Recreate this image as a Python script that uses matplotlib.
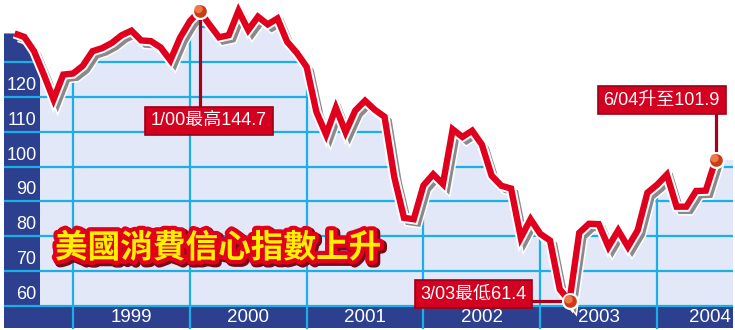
# US consumer confidence index, Jun 1998 - Jun 2004 (newspaper style chart)

import matplotlib
matplotlib.use('Agg')
import matplotlib.pyplot as plt
import matplotlib.patheffects as pe
from matplotlib.patches import Rectangle

# monthly values, Jun 1998 .. Jun 2004
cci = [138.2, 137.2, 133.1, 126.4, 119.3, 126.4, 126.7,
       128.9, 133.1, 134.0, 135.5, 137.7, 139.0, 136.2, 136.0, 134.2, 130.5, 137.0, 141.7,
       144.7, 140.8, 137.1, 137.7, 144.7, 139.2, 143.0, 140.8, 142.5, 135.8, 132.6, 128.6,
       115.7, 109.2, 116.9, 109.9, 116.1, 118.9, 116.3, 114.3, 97.0, 85.3, 84.9, 94.6,
       97.8, 95.0, 110.7, 108.5, 110.3, 106.3, 97.4, 94.5, 93.7, 79.6, 84.9, 80.7,
       78.8, 64.8, 61.4, 81.0, 83.6, 83.5, 77.0, 81.7, 77.0, 81.7, 92.5, 94.8,
       97.7, 88.5, 88.5, 93.0, 93.1, 101.9]
start_year, start_month = 1998, 6
year_labels = ['1999', '2000', '2001', '2002', '2003', '2004']
y_ticks = [60, 70, 80, 90, 100, 110, 120]
grid_levels = [60, 70, 80, 90, 100, 110, 120, 130, 140]

# x = months since Dec 1998 (Jan 1999 point sits one month right of the 1999 line)
x = [(start_year - 1999) * 12 + start_month + i for i in range(len(cci))]

# annotated points
i_max = cci.index(144.7)
i_min = cci.index(61.4)
i_last = len(cci) - 1

# colours
LAV = '#e2e8f8'
BLUE = '#2c408f'
CYAN = '#1ab0e6'
RED = '#e0001e'
BOXRED = '#d4001f'

fig = plt.figure(figsize=(7.35, 3.3), dpi=100)
ax = fig.add_axes([0, 0, 1, 1])
XL, XR = -7.5, 68.0
YB, YT = 53.12, 147.8
ax.set_xlim(XL, XR)
ax.set_ylim(YB, YT)
ax.axis('off')

col_l, col_r = -7.09, -3.39     # left blue column
right = 67.8
band_b = 53.7

# backgrounds
ax.add_patch(Rectangle((col_r, 60), right - col_r, YT - 60, fc=LAV, ec='none', zorder=0))
ax.add_patch(Rectangle((col_l, 60), col_r - col_l, YT - 60, fc=BLUE, ec='none', zorder=0))
ax.add_patch(Rectangle((col_l, band_b), right - col_l, 60 - band_b, fc=BLUE, ec='none', zorder=0))

# grid
for g in grid_levels:
    ax.plot([col_l, right], [g, g], color=CYAN, lw=1.6, zorder=1, solid_capstyle='butt')
for k in range(len(year_labels)):
    ax.plot([k * 12, k * 12], [band_b, YT], color=CYAN, lw=1.6, zorder=1)

# white above the curve
fx = [XL] + x + [XR]
fy = [cci[0]] + cci + [cci[-1]]
ax.fill_between(fx, fy, YT + 5, color='white', zorder=2, lw=0)

# labels
lab_font = ['Liberation Sans', 'DejaVu Sans']
for v in y_ticks:
    ax.text(-3.75, v + 3.3, str(v), color='white', fontsize=13, ha='right', va='center',
            family=lab_font, zorder=3)
for k, lab in enumerate(year_labels):
    xc = k * 12 + 6
    ha = 'center'
    if xc > 62:
        xc, ha = 67.6, 'right'
    ax.text(xc, 56.8, lab, color='white', fontsize=13.5, ha=ha, va='center',
            family=lab_font, zorder=3)

# title
ax.text(14.9, 76.6, '美國消費信心指數上升', color='#fff000', fontsize=23.5, fontweight='bold',
        family=['Noto Sans CJK TC'], ha='center', va='center', zorder=3,
        path_effects=[pe.Stroke(linewidth=7, foreground='#7a0a18', offset=(1.5, -1.5)),
                      pe.Stroke(linewidth=6, foreground='#e2001b'),
                      pe.Normal()])

# the line with halo and shadow
ax.plot(x, cci, color=RED, lw=4.6, zorder=4, solid_joinstyle='miter', solid_capstyle='butt',
        path_effects=[pe.SimpleLineShadow(offset=(3.0, -3.0), shadow_color='white', alpha=1, linewidth=6.8),
                      pe.SimpleLineShadow(offset=(3.0, -3.0), shadow_color='#8a8a8a', alpha=1, linewidth=4.6),
                      pe.Stroke(linewidth=7.4, foreground='white'),
                      pe.Normal()])

# annotations
ann_font = ['Liberation Sans', 'Noto Sans CJK TC']
box = dict(boxstyle='square,pad=0.32', fc=BOXRED, ec='#9c0018', lw=1.2)
CONN = '#a8001c'

ax.plot([x[i_max], x[i_max]], [cci[i_max], 113], color=CONN, lw=2.3, zorder=5)
ax.text(13.97, 113.1, '1/00最高144.7', color='white', fontsize=13, family=ann_font,
        ha='center', va='center', bbox=box, zorder=6)

ax.plot([x[i_last], x[i_last]], [cci[i_last], 119], color=CONN, lw=2.3, zorder=5)
ax.text(60.46, 119.1, '6/04升至101.9', color='white', fontsize=13, family=ann_font,
        ha='center', va='center', bbox=box, zorder=6)

ax.plot([44, x[i_min]], [cci[i_min], cci[i_min]], color=CONN, lw=2.3, zorder=5)
ax.text(41.15, 63.4, '3/03最低61.4', color='white', fontsize=13, family=ann_font,
        ha='center', va='center', bbox=box, zorder=6)

for i in [i_max, i_min, i_last]:
    ax.scatter([x[i]], [cci[i]], s=115, color='#cc3a16', edgecolors='white', linewidths=1.6, zorder=7)
    ax.scatter([x[i] - 0.1], [cci[i] + 0.5], s=35, color='#ec7a48', edgecolors='none', zorder=8)

plt.savefig('out.png', dpi=100)
plt.close()
